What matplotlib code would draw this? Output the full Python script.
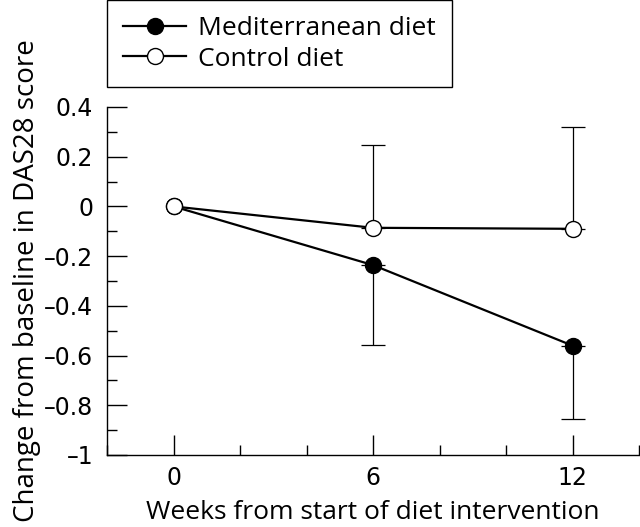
import matplotlib
matplotlib.use('Agg')
from matplotlib import pyplot as plt
from matplotlib.ticker import MultipleLocator

weeks = [0, 6, 12]
med_change = [0.0, -0.236, -0.56]
med_err = [0.0, 0.32, 0.295]
ctrl_change = [0.0, -0.086, -0.09]
ctrl_err = [0.0, 0.335, 0.41]
y_ticks = [0.4, 0.2, 0, -0.2, -0.4, -0.6, -0.8, -1]
y_tick_labels = ['0.4', '0.2', '0', '\u20130.2', '\u20130.4', '\u20130.6', '\u20130.8', '\u20131']
x_ticks = [0, 6, 12]
x_tick_labels = ['0', '6', '12']


def main():
    plt.rcParams['font.family'] = ['Open Sans', 'DejaVu Sans']
    plt.rcParams['font.size'] = 19

    fig = plt.figure(figsize=[6.4, 5.27], dpi=100)
    ax = fig.add_axes([107 / 640, 1 - 455 / 527, 532 / 640, 348 / 527])

    # one-sided error bars: Mediterranean down, control up
    ax.errorbar(weeks[1:], med_change[1:], yerr=[med_err[1:], [0, 0]],
                fmt='none', ecolor='black', elinewidth=0.9, capsize=8.5, capthick=0.9)
    ax.errorbar(weeks[1:], ctrl_change[1:], yerr=[[0, 0], ctrl_err[1:]],
                fmt='none', ecolor='black', elinewidth=0.9, capsize=8.5, capthick=0.9)

    ax.plot(weeks, med_change, color='black', lw=1.6, marker='o', ms=11.5,
            mfc='black', mec='black', label='Mediterranean diet', clip_on=False, zorder=3)
    ax.plot(weeks, ctrl_change, color='black', lw=1.6, marker='o', ms=11.5,
            mfc='white', mec='black', mew=1.0, label='Control diet', clip_on=False, zorder=4)

    ax.set_xlim(-2, 14)
    ax.set_ylim(-1, 0.4)
    ax.set_xticks(x_ticks, labels=x_tick_labels, fontfamily='DejaVu Sans', fontsize=17)
    ax.set_yticks(y_ticks, labels=y_tick_labels, fontfamily='DejaVu Sans', fontsize=17)
    ax.xaxis.set_minor_locator(MultipleLocator(2))
    ax.yaxis.set_minor_locator(MultipleLocator(0.1))
    ax.tick_params(which='major', direction='in', length=14.5, width=1.0)
    ax.tick_params(which='minor', direction='in', length=7, width=1.0)
    ax.tick_params(axis='x', pad=8)
    ax.tick_params(axis='y', pad=10)

    for side in ['top', 'right']:
        ax.spines[side].set_visible(False)
    for side in ['left', 'bottom']:
        ax.spines[side].set_linewidth(1.0)

    ax.set_xlabel('Weeks from start of diet intervention', labelpad=7)
    ax.set_ylabel('Change from baseline in DAS28 score', fontsize=20, labelpad=2)

    leg = ax.legend(loc='upper left', bbox_to_anchor=(107 / 640, 1.0),
                    bbox_transform=fig.transFigure, borderaxespad=0,
                    fancybox=False, edgecolor='black', framealpha=1,
                    handlelength=2.4, handletextpad=0.45, borderpad=0.6,
                    labelspacing=0.22)
    leg.get_frame().set_linewidth(1.0)

    fig.savefig('out.png', dpi=100)


if __name__ == '__main__':
    main()
